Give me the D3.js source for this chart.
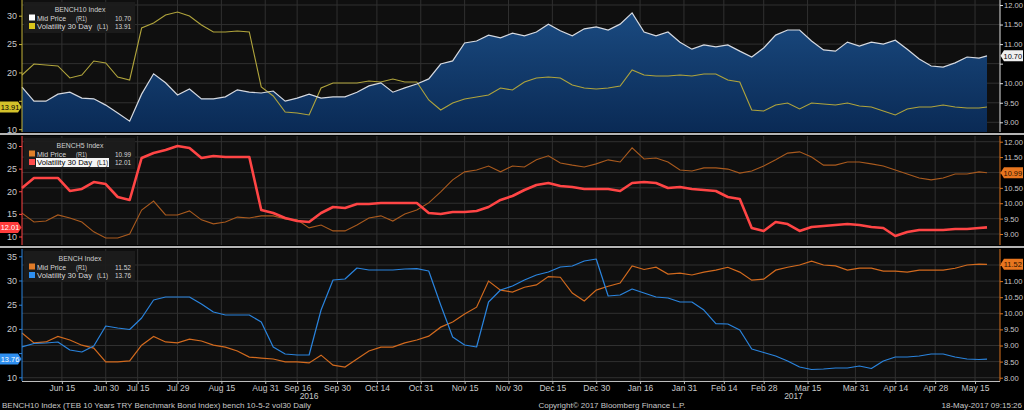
<!DOCTYPE html>
<html><head><meta charset="utf-8">
<script src="https://cdn.jsdelivr.net/npm/d3@7"></script>
<style>
html,body{margin:0;padding:0;background:#000;}
svg{display:block;}
text{font-family:"Liberation Sans",Arial,sans-serif;}
</style></head><body>
<svg id="chart" width="1024" height="410"></svg>
<script>
// ---------------- DATA ----------------
const startDate = "2016-06-01";
const endDate = "2017-05-18";
const holidays = ["2016-07-05","2016-07-06","2016-07-07","2016-08-30","2016-09-12","2016-09-13","2016-09-14","2016-09-15","2017-05-01"];
const tickDates = ["2016-06-15","2016-06-30","2016-07-15","2016-07-29","2016-08-15","2016-08-31","2016-09-16","2016-09-30","2016-10-14","2016-10-31","2016-11-15","2016-11-30","2016-12-15","2016-12-30","2017-01-16","2017-01-31","2017-02-14","2017-02-28","2017-03-15","2017-03-31","2017-04-14","2017-04-28","2017-05-15"];
const tickLabels = ["Jun 15","Jun 30","Jul 15","Jul 29","Aug 15","Aug 31","Sep 16","Sep 30","Oct 14","Oct 31","Nov 15","Nov 30","Dec 15","Dec 30","Jan 16","Jan 31","Feb 14","Feb 28","Mar 15","Mar 31","Apr 14","Apr 28","May 15"];
const yearLabels = ["2016","2017"];
const sampleEvery = 3; // one reading every 3 trading days (plus the last day)

const bench10Price = [9.90,9.54,9.54,9.72,9.77,9.62,9.60,9.44,9.24,9.03,
 9.72,10.24,10.01,9.70,9.85,9.60,9.60,9.65,9.83,9.77,
 9.75,9.80,9.54,9.62,9.72,9.62,9.65,9.65,9.77,9.93,
 10.01,9.77,9.88,9.98,10.11,10.49,10.57,11.03,11.08,11.23,
 11.16,11.28,11.21,11.31,11.51,11.34,11.21,11.39,11.44,11.36,
 11.51,11.80,11.31,11.21,11.31,11.05,10.87,10.98,10.93,10.98,
 10.82,10.67,10.90,11.23,11.36,11.36,11.08,10.85,10.82,11.05,
 10.95,11.05,11.00,11.10,10.87,10.62,10.44,10.41,10.52,10.67,
 10.64,10.70];
const bench10Vol = [19.55,21.49,21.31,21.14,19.02,19.55,22.02,21.67,19.20,18.67,
 27.83,28.71,30.12,30.65,29.95,28.36,27.13,27.13,27.30,27.13,
 17.44,15.85,13.03,12.85,12.50,17.26,18.14,18.14,18.14,18.49,
 18.32,18.85,18.32,18.32,15.15,13.38,14.62,15.32,15.67,16.03,
 17.26,16.91,18.32,19.02,19.20,19.02,17.79,17.26,17.08,17.26,
 17.61,20.43,19.55,19.37,19.37,19.55,19.37,19.73,19.73,18.67,
 18.32,13.38,13.21,14.26,14.62,13.56,14.62,14.44,14.26,14.62,
 14.09,13.91,13.21,12.50,13.56,13.91,13.91,14.26,13.91,13.74,
 13.74,13.91];
const bench5Price = [9.68,9.39,9.42,9.62,9.52,9.39,9.07,8.87,8.87,9.00,
 9.78,10.07,9.62,9.62,9.75,9.46,9.33,9.39,9.55,9.52,
 9.59,9.59,9.49,9.46,9.20,9.29,9.10,9.10,9.29,9.52,
 9.59,9.42,9.65,9.78,10.01,10.37,10.76,11.02,11.08,11.21,
 11.02,11.21,11.18,11.41,11.54,11.31,11.24,11.18,11.28,11.41,
 11.34,11.80,11.44,11.47,11.34,11.08,11.05,11.15,11.15,11.11,
 10.98,11.05,11.21,11.41,11.63,11.67,11.50,11.24,11.24,11.34,
 11.34,11.28,11.21,11.08,10.95,10.82,10.76,10.82,10.95,10.95,
 11.02,10.99];
const bench5Vol = [20.72,22.93,22.93,22.93,20.06,20.50,22.04,21.60,18.73,18.07,
 27.35,28.45,29.12,30.00,29.56,27.35,27.79,27.57,27.57,27.57,
 15.86,15.19,14.09,13.43,13.20,15.19,16.52,16.30,17.18,17.18,
 17.40,17.40,17.40,17.40,15.19,14.97,15.41,15.41,15.64,16.52,
 18.07,18.95,20.28,21.38,21.82,21.16,20.94,20.50,20.50,20.50,
 20.06,21.82,22.04,21.82,20.72,20.94,20.50,20.28,20.06,18.73,
 18.29,11.88,11.22,13.20,12.76,11.22,12.10,12.32,12.54,12.76,
 12.54,12.10,11.88,10.11,10.99,11.44,11.44,11.44,11.66,11.66,
 11.88,12.01];
const benchPrice = [9.39,9.08,9.11,9.28,9.17,9.01,8.92,8.49,8.49,8.52,
 9.01,9.28,9.11,9.08,9.20,9.14,9.01,8.95,8.83,8.64,
 8.61,8.58,8.49,8.49,8.46,8.70,8.39,8.33,8.58,8.83,
 8.95,8.95,9.08,9.17,9.29,9.57,9.73,9.98,10.19,11.00,
 10.72,10.66,10.81,10.88,11.14,11.12,10.63,10.38,10.72,10.84,
 10.94,11.47,11.36,11.43,11.22,11.25,11.19,11.28,11.34,11.43,
 11.28,11.03,11.06,11.34,11.43,11.50,11.62,11.50,11.47,11.34,
 11.40,11.40,11.31,11.31,11.28,11.34,11.34,11.34,11.40,11.50,
 11.53,11.52];
const benchVol = [16.30,16.98,17.09,17.29,15.64,15.23,16.47,20.60,20.19,19.88,
 22.25,25.97,26.59,26.59,26.59,25.14,23.49,22.87,22.87,22.87,
 21.43,16.26,14.81,14.61,14.61,23.90,30.10,30.31,32.58,32.17,
 32.17,32.17,32.38,32.44,31.96,24.94,18.33,16.67,16.26,25.56,
 28.04,28.86,30.10,31.14,31.76,32.79,33.00,34.03,34.44,26.80,
 27.00,28.24,27.42,26.59,26.38,25.56,25.56,23.90,21.07,21.01,
 19.77,15.85,15.12,14.40,13.37,12.13,11.61,11.71,11.92,11.92,
 12.33,11.82,13.37,14.19,14.19,14.40,14.81,14.81,14.19,13.78,
 13.68,13.76];

// ---------------- CALENDAR ----------------
const fmt = d3.utcFormat("%Y-%m-%d");
const parse = d3.utcParse("%Y-%m-%d");
const tradingDays = d3.utcDay.range(parse(startDate), d3.utcDay.offset(parse(endDate), 1))
  .filter(d => d.getUTCDay() > 0 && d.getUTCDay() < 6 && !holidays.includes(fmt(d)))
  .map(fmt);
const sampleDates = tradingDays.filter((d, i) => i % sampleEvery === 0 || i === tradingDays.length - 1);

function series(values) {
  return values.map((v, i) => ({date: sampleDates[Math.min(i, sampleDates.length - 1)], v}));
}

// ---------------- LAYOUT ----------------
const W = 1024, H = 410, XL = 22, XR = 1000, XD = 987;
const FONT = "Liberation Sans, Arial, sans-serif";
const svg = d3.select("#chart");
svg.append("rect").attr("width", W).attr("height", H).attr("fill", "#000");

const defs = svg.append("defs");
const grad = defs.append("linearGradient").attr("id", "areaGrad").attr("x1", 0).attr("x2", 0).attr("y1", 0).attr("y2", 1);
grad.append("stop").attr("offset", "0%").attr("stop-color", "#1a4a80");
grad.append("stop").attr("offset", "100%").attr("stop-color", "#0a2a55");

const x = d3.scalePoint().domain(tradingDays).range([XL, XD]);

const panels = [
  {title: "BENCH10 Index", top: 0, bottom: 132, price: bench10Price, vol: bench10Vol,
   lDom: [10, 30], lRange: [129.2, 15.7], lTicks: [10, 15, 20, 25, 30],
   rDom: [9, 12], rRange: [122.3, 5], rTicks: d3.range(9, 12.001, 0.5),
   priceColor: "#d5d9e0", priceWidth: 1.2, volColor: "#b0a43c", volWidth: 1.1,
   lAxis: "#c4b43a", rAxis: "#e0e0e0", area: true,
   priceSwatch: "#ffffff", volSwatch: "#d8c41c",
   priceTag: ["#f0f0f0", "#000"], volTag: ["#d4c22a", "#000"], highlight: false,
   legendTop: 2},
  {title: "BENCH5 Index", top: 136, bottom: 245, price: bench5Price, vol: bench5Vol,
   lDom: [10, 30], lRange: [236.5, 146], lTicks: [10, 15, 20, 25, 30],
   rDom: [9, 12], rRange: [234, 141.7], rTicks: d3.range(9, 12.001, 0.5),
   priceColor: "#a95a1e", priceWidth: 1.1, volColor: "#ff4545", volWidth: 2.6,
   lAxis: "#ff4545", rAxis: "#d9731f", area: false,
   priceSwatch: "#e0802a", volSwatch: "#ff4b4b",
   priceTag: ["#e8761f", "#2a1200"], volTag: ["#ff3b3b", "#fff"], highlight: true,
   legendTop: 138},
  {title: "BENCH Index", top: 249, bottom: 381, price: benchPrice, vol: benchVol,
   lDom: [10, 35], lRange: [377.3, 256.3], lTicks: [10, 15, 20, 25, 30, 35],
   rDom: [8, 11.5], rRange: [377.7, 265], rTicks: d3.range(8, 11.501, 0.5),
   priceColor: "#d26a1e", priceWidth: 1.2, volColor: "#2a84de", volWidth: 1.2,
   lAxis: "#2a84de", rAxis: "#d9731f", area: false,
   priceSwatch: "#e07b28", volSwatch: "#2f8ff0",
   priceTag: ["#e8761f", "#2a1200"], volTag: ["#2f8ff0", "#fff"], highlight: false,
   legendTop: 251}
];

const f2 = d3.format(".2f");

function fitText(sel, len) {
  sel.attr("textLength", len).attr("lengthAdjust", "spacingAndGlyphs");
}

panels.forEach(p => {
  const g = svg.append("g");
  const yL = d3.scaleLinear().domain(p.lDom).range(p.lRange);
  const yR = d3.scaleLinear().domain(p.rDom).range(p.rRange);
  const priceData = series(p.price), volData = series(p.vol);
  const lastP = p.price[p.price.length - 1], lastV = p.vol[p.vol.length - 1];
  const vy = yL(lastV), py = yR(lastP);

  g.append("rect").attr("x", XL).attr("y", p.top).attr("width", XR - XL).attr("height", p.bottom - p.top).attr("fill", "#0f0f0f");

  // grid
  g.selectAll(".hg").data(p.rTicks).join("line")
    .attr("x1", XL).attr("x2", XR).attr("y1", d => yR(d)).attr("y2", d => yR(d))
    .attr("stroke", "#303030").attr("stroke-width", 1);
  g.selectAll(".vg").data(tickDates).join("line")
    .attr("x1", d => x(d)).attr("x2", d => x(d)).attr("y1", p.top).attr("y2", p.bottom)
    .attr("stroke", "#303030").attr("stroke-width", 1);

  if (p.area) {
    g.append("path").datum(priceData)
      .attr("d", d3.area().x(d => x(d.date)).y0(p.bottom).y1(d => yR(d.v)))
      .attr("fill", "url(#areaGrad)");
  }
  const lineP = d3.line().x(d => x(d.date)).y(d => yR(d.v));
  const lineV = d3.line().x(d => x(d.date)).y(d => yL(d.v));
  if (p.area) {
    g.append("path").datum(volData).attr("d", lineV).attr("fill", "none").attr("stroke", p.volColor).attr("stroke-width", p.volWidth);
    g.append("path").datum(priceData).attr("d", lineP).attr("fill", "none").attr("stroke", p.priceColor).attr("stroke-width", p.priceWidth);
  } else {
    g.append("path").datum(priceData).attr("d", lineP).attr("fill", "none").attr("stroke", p.priceColor).attr("stroke-width", p.priceWidth);
    g.append("path").datum(volData).attr("d", lineV).attr("fill", "none").attr("stroke", p.volColor).attr("stroke-width", p.volWidth).attr("stroke-linejoin", "round");
  }

  // left axis (labels hidden where the value tag covers them)
  const lTicksShown = p.lTicks.filter(t => Math.abs(yL(t) - vy) > 9);
  const la = g.append("g").attr("transform", `translate(${XL},0)`)
    .call(d3.axisLeft(yL).tickValues(p.lTicks).tickFormat(d => lTicksShown.includes(d) ? d3.format("d")(d) : "").tickSize(3).tickPadding(2));
  la.select(".domain").remove();
  la.selectAll("line").attr("stroke", p.lAxis);
  la.selectAll("text").attr("fill", "#c8c8c8").attr("font-size", 9).attr("font-family", FONT);
  g.append("line").attr("x1", XL).attr("x2", XL).attr("y1", p.top).attr("y2", p.bottom).attr("stroke", p.lAxis).attr("stroke-width", 1);

  // right axis
  const rTicksShown = p.rTicks.filter(t => Math.abs(yR(t) - py) > 9);
  const ra = g.append("g").attr("transform", `translate(${XR},0)`)
    .call(d3.axisRight(yR).tickValues(p.rTicks).tickFormat(d => rTicksShown.includes(d) ? f2(d) : "").tickSize(3).tickPadding(1));
  ra.select(".domain").remove();
  ra.selectAll("line").attr("stroke", p.rAxis);
  ra.selectAll("text").attr("fill", "#c8c8c8").attr("font-size", 7.6).attr("font-family", FONT);
  g.append("line").attr("x1", XR).attr("x2", XR).attr("y1", p.top).attr("y2", p.bottom).attr("stroke", p.rAxis).attr("stroke-width", 1);

  // legend
  const lg = g.append("g").attr("transform", `translate(24,${p.legendTop})`);
  lg.append("rect").attr("width", 111).attr("height", 31).attr("fill", "#1c1c1c").attr("opacity", 0.92);
  fitText(lg.append("text").attr("x", 56).attr("y", 10).attr("text-anchor", "middle").attr("font-size", 8).attr("fill", "#d0d0d0").text(p.title), p.title.length * 3.9);
  const rows = [
    {sw: p.priceSwatch, label: "Mid Price", labLen: 29, tag: "(R1)", tagX: 52, val: f2(lastP), hl: false},
    {sw: p.volSwatch, label: "Volatility 30 Day", labLen: 55, tag: "(L1)", tagX: 73, val: f2(lastV), hl: p.highlight}
  ];
  rows.forEach((r, i) => {
    const yy = 18.5 + i * 8.5;
    lg.append("rect").attr("x", 5).attr("y", yy - 6).attr("width", 6).attr("height", 6).attr("fill", r.sw);
    if (r.hl) lg.append("rect").attr("x", 12).attr("y", yy - 7).attr("width", 73).attr("height", 9).attr("fill", "#f4f4f4");
    const tc = r.hl ? "#000" : "#d6d6d6";
    fitText(lg.append("text").attr("x", 13).attr("y", yy).attr("font-size", 8).attr("fill", tc).text(r.label), r.labLen);
    fitText(lg.append("text").attr("x", r.tagX).attr("y", yy).attr("font-size", 8).attr("fill", tc).text(r.tag), 11);
    fitText(lg.append("text").attr("x", 107).attr("y", yy).attr("text-anchor", "end").attr("font-size", 8).attr("fill", "#d6d6d6").text(r.val), 16);
  });

  // value tags
  g.append("path").attr("d", `M0,${vy - 5.5}H18L21.5,${vy}L18,${vy + 5.5}H0Z`).attr("fill", p.volTag[0]);
  g.append("text").attr("x", 10).attr("y", vy + 2.8).attr("text-anchor", "middle").attr("font-size", 7.4).attr("fill", p.volTag[1]).text(f2(lastV));
  g.append("path").attr("d", `M1000.5,${py}L1004,${py - 5.5}H1023V${py + 5.5}H1004Z`).attr("fill", p.priceTag[0]);
  g.append("text").attr("x", 1012.8).attr("y", py + 2.8).attr("text-anchor", "middle").attr("font-size", 7.4).attr("fill", p.priceTag[1]).text(f2(lastP));
});

// separators
[133, 246].forEach(yy => svg.append("rect").attr("x", 0).attr("y", yy).attr("width", W).attr("height", 2).attr("fill", "#b4b4b4"));

// bottom axis
const xa = svg.append("g").attr("transform", "translate(0,381)")
  .call(d3.axisBottom(x).tickValues(tickDates).tickFormat((d, i) => tickLabels[i]).tickSize(3).tickPadding(1));
xa.select(".domain").remove();
xa.selectAll("line").attr("stroke", "#bdbdbd");
xa.selectAll("text").attr("fill", "#c8c8c8").attr("font-size", 8.5).attr("font-family", FONT);
svg.append("line").attr("x1", XL).attr("x2", XR).attr("y1", 381.5).attr("y2", 381.5).attr("stroke", "#bdbdbd");

yearLabels.forEach(yr => {
  const days = tradingDays.filter(d => d.startsWith(yr));
  const xm = (x(days[0]) + x(days[days.length - 1])) / 2;
  svg.append("text").attr("x", xm).attr("y", 399).attr("text-anchor", "middle").attr("font-size", 8.5).attr("fill", "#c8c8c8").text(yr);
});

// footer
svg.append("text").attr("x", 2).attr("y", 408).attr("font-size", 8).attr("fill", "#c8c8c8")
  .text("BENCH10 Index (TEB 10 Years TRY Benchmark Bond Index) bench 10-5-2 vol30  Daily");
svg.append("text").attr("x", 612).attr("y", 408).attr("text-anchor", "middle").attr("font-size", 8).attr("fill", "#c8c8c8")
  .text("Copyright\u00A9 2017 Bloomberg Finance L.P.");
svg.append("text").attr("x", 1022).attr("y", 408).attr("text-anchor", "end").attr("font-size", 8).attr("fill", "#c8c8c8")
  .text("18-May-2017 09:15:26");
</script>
</body></html>
